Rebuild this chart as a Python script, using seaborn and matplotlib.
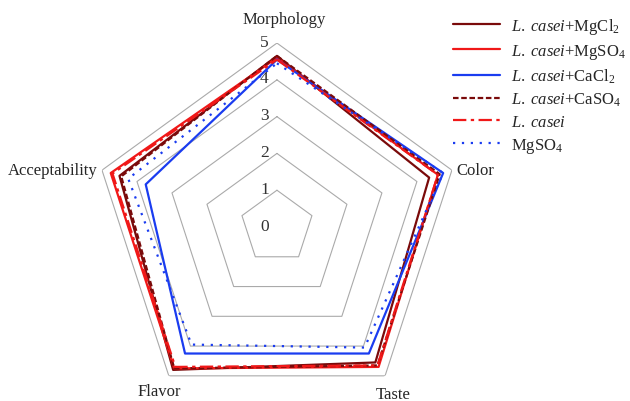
import numpy as np
import pandas as pd
import matplotlib
matplotlib.use("Agg")
import matplotlib.pyplot as plt
import seaborn as sns

sns.set_style("white")
plt.rcParams['font.family'] = ['Liberation Serif', 'DejaVu Serif']
plt.rcParams['mathtext.fontset'] = 'custom'
plt.rcParams['mathtext.rm'] = 'Liberation Serif'
plt.rcParams['mathtext.it'] = 'Liberation Serif:italic'

# attributes, clockwise from the top
categories = ['Morphology', 'Color', 'Taste', 'Flavor', 'Acceptability']

# scores
mgcl2 = [4.65, 4.35, 4.55, 4.80, 4.50]
mgso4 = [4.60, 4.60, 4.70, 4.75, 4.75]
cacl2 = [4.55, 4.75, 4.25, 4.25, 3.75]
caso4 = [4.65, 4.65, 4.65, 4.75, 4.45]
casei = [4.55, 4.60, 4.65, 4.70, 4.70]
mgso4_only = [4.45, 4.75, 4.05, 3.95, 4.25]

series_names = [r'$\it{L.\;casei}$+MgCl$_2$', r'$\it{L.\;casei}$+MgSO$_4$',
                r'$\it{L.\;casei}$+CaCl$_2$', r'$\it{L.\;casei}$+CaSO$_4$',
                r'$\it{L.\;casei}$', r'MgSO$_4$']
series_values = [mgcl2, mgso4, cacl2, caso4, casei, mgso4_only]
ring_levels = [1, 2, 3, 4, 5]
tick_labels = ['0', '1', '2', '3', '4', '5']

colors = ['#7a0a0a', '#f01818', '#1a3cf0', '#7a0a0a', '#f01818', '#1a3cf0']
styles = ['-', '-', '-', (0, (2.5, 1.2)), (0, (6, 2, 1.5, 2)), (0, (1, 3))]

n = len(categories)
angles = np.linspace(0, 2 * np.pi, n, endpoint=False)
angles_closed = np.append(angles, 2 * np.pi)

fig = plt.figure(figsize=(6.3, 4.02), dpi=100)
ax = fig.add_axes([0.1476, -0.0249, 0.584, 0.9154], projection='polar')
ax.set_theta_offset(np.pi / 2)
ax.set_theta_direction(-1)
ax.set_ylim(0, 5)
ax.grid(False)
ax.spines['polar'].set_visible(False)
ax.set_xticks([])
ax.set_yticks([])

# pentagon rings
for r in ring_levels:
    ax.plot(angles_closed, [r] * (n + 1), color='#aaaaaa', lw=0.8, zorder=1)

for name, vals, c, ls in zip(series_names, series_values, colors, styles):
    df = pd.DataFrame({'theta': angles_closed, 'score': vals + vals[:1]})
    sns.lineplot(data=df, x='theta', y='score', sort=False, estimator=None,
                 color=c, linestyle=ls, lw=1.6, label=name, ax=ax, zorder=3)

ax.set_xlabel('')
ax.set_ylabel('')

# radial labels
for i, lab in enumerate(tick_labels):
    ax.annotate(lab, xy=(0, i), xytext=(-9, 1), textcoords='offset points',
                ha='center', va='center', fontsize=12.5, color='#333333')

# category labels
offsets = [((5, 17), 'center', 'center'), ((3, 0), 'left', 'center'),
           ((6, -13), 'center', 'center'), ((-7, -11), 'center', 'center'),
           ((-3, 0), 'right', 'center')]
for ang, cat, (off, ha, va) in zip(angles, categories, offsets):
    ax.annotate(cat, xy=(ang, 5), xytext=off, textcoords='offset points',
                ha=ha, va=va, fontsize=12, annotation_clip=False)

ax.legend(loc='upper left', bbox_to_anchor=(0.695, 0.995),
          bbox_transform=fig.transFigure, frameon=False, fontsize=12,
          handlelength=2.8, handletextpad=0.7, labelspacing=0.35)

fig.savefig('out.png', dpi=100)
